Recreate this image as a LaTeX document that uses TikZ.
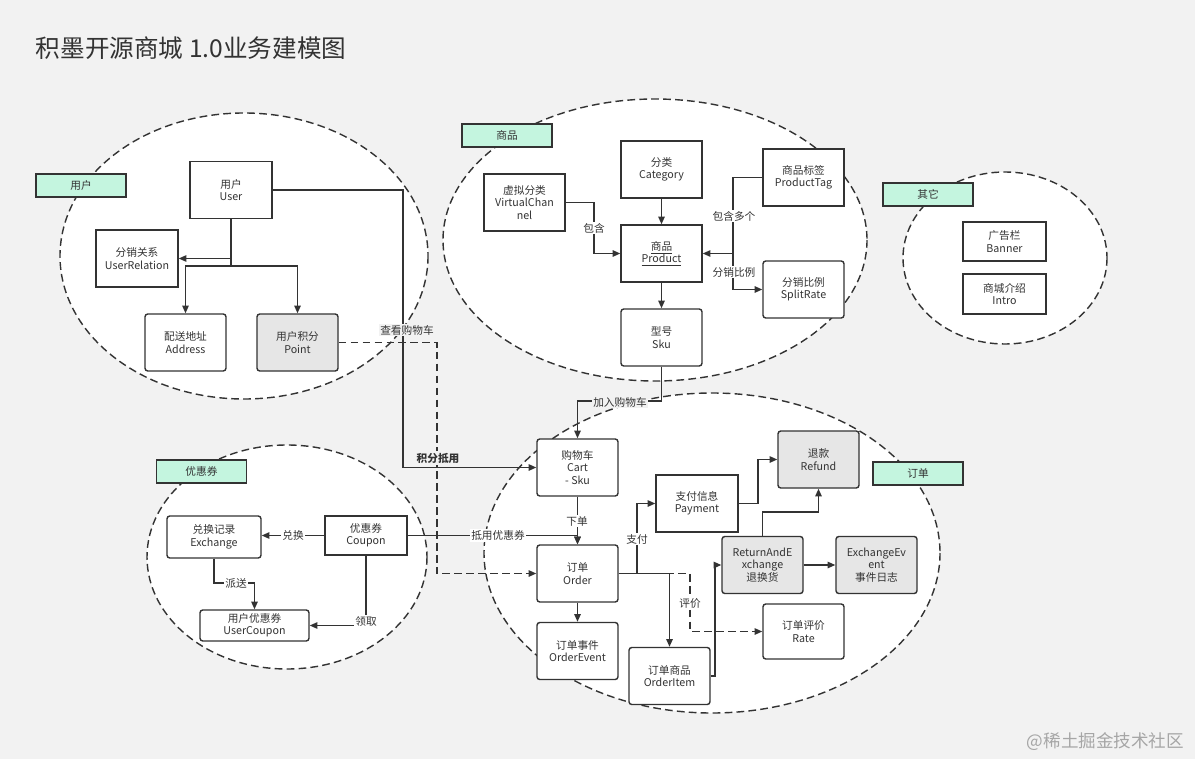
\documentclass[tikz,border=0pt]{standalone}
\usepackage{fontspec}
\setmainfont{Noto Sans CJK SC}
\usetikzlibrary{arrows.meta}
\definecolor{bgc}{HTML}{F2F2F2}
\definecolor{ink}{HTML}{333333}
\definecolor{mint}{HTML}{C4F5DF}
\definecolor{shade}{HTML}{E6E6E6}
\newcommand{\boxfont}{\fontsize{7.6}{8.8}\selectfont}

\begin{document}
\begin{tikzpicture}[
  x=0.25mm, y=-0.25mm,
  >={Triangle[length=5.5pt,width=4.6pt]},
  zone/.style={
    draw=ink,
    line width=1pt,
    dash pattern=on 5.5pt off 3pt,
    fill=white
  },
  box/.style={
    draw=ink,
    line width=1pt,
    fill=white,
    text=ink,
    align=center,
    minimum width=20.25mm,
    minimum height=14.25mm,
    inner sep=1pt,
    font=\boxfont
  },
  rbox/.style={box, rounded corners=2pt},
  gbox/.style={rbox, fill=shade},
  tag/.style={
    draw=ink,
    line width=1pt,
    fill=mint,
    text=ink,
    minimum width=22.5mm,
    minimum height=5.75mm,
    font=\boxfont
  },
  link/.style={draw=ink, line width=1pt, ->},
  lbl/.style={fill=white, text=ink, inner sep=1pt, font=\boxfont},
  glbl/.style={lbl, fill=bgc}
]
\fill[bgc] (0,0) rectangle (1195,759);
\useasboundingbox (0,0) rectangle (1195,759);

% zones
\draw[zone] (244,256) ellipse [x radius=184, y radius=143];
\draw[zone] (655,240) ellipse [x radius=212, y radius=141];
\draw[zone] (1005,258) ellipse [x radius=102, y radius=86];
\draw[zone] (287,557) ellipse [x radius=140, y radius=112];
\draw[zone] (712,553) ellipse [x radius=228, y radius=160];

\node[anchor=west, text=ink, font=\fontsize{17.5}{20}\selectfont] (title) at (31,48) {积墨开源商城 1.0业务建模图};

% user
\node[box]  (user)  at (231,190)     [minimum width=20.5mm] {用户\\User};
\node[box]  (rel)   at (137,258.5)   [minimum width=20.5mm] {分销关系\\UserRelation};
\node[rbox] (addr)  at (185.5,342.5) {配送地址\\Address};
\node[gbox] (point) at (297.5,342.5) {用户积分\\Point};

% product
\node[box]  (vch)   at (524.5,202.5) {虚拟分类\\VirtualChan\\nel};
\node[box]  (cat)   at (661.5,169.5) {分类\\Category};
\node[box]  (prod)  at (661.5,253.5) {\underline{商品}\\\underline{Product}};
\node[rbox] (sku)   at (661.5,337.5) {型号\\Sku};
\node[box]  (ptag)  at (803.5,177.5) {商品标签\\ProductTag};
\node[rbox] (split) at (803.5,289.5) {分销比例\\SplitRate};

% other
\node[box] (banner) at (1004.5,241.5) [minimum width=20.75mm, minimum height=9.75mm] {广告栏\\Banner};
\node[box] (intro)  at (1004.5,294)   [minimum width=20.75mm, minimum height=10mm] {商城介绍\\Intro};

% coupon
\node[rbox] (exch)    at (214,537)     [minimum width=23.5mm, minimum height=10.5mm] {兑换记录\\Exchange};
\node[box]  (coupon)  at (366,535.5)   [minimum width=20.5mm, minimum height=9.75mm] {优惠券\\Coupon};
\node[rbox] (ucoupon) at (254.5,625.5) [minimum width=27.25mm, minimum height=7.75mm] {用户优惠券\\UserCoupon};

% order
\node[rbox] (cart)   at (577.5,467.5) {购物车\\Cart\\- Sku};
\node[rbox] (order)  at (577.5,573.5) {订单\\Order};
\node[rbox] (oevent) at (577.5,651)   {订单事件\\OrderEvent};
\node[box]  (pay)    at (697,503.5)   [minimum width=20.5mm] {支付信息\\Payment};
\node[gbox] (refund) at (818.5,459.5) {退款\\Refund};
\node[gbox] (rae)    at (762.5,565)   {ReturnAndE\\xchange\\退换货};
\node[gbox] (eevent) at (876.5,565)   {ExchangeEv\\ent\\事件日志};
\node[rbox] (rate)   at (803.5,631.5) [minimum height=13.75mm] {订单评价\\Rate};
\node[rbox] (oitem)  at (669.5,676)   {订单商品\\OrderItem};

% tags
\node[tag] (tuser)   at (81,185.5)   {用户};
\node[tag] (tprod)   at (507,135.5)  {商品};
\node[tag] (tother)  at (928,194.5)  {其它};
\node[tag] (tcoupon) at (201.5,471.5) {优惠券};
\node[tag] (torder)  at (918,473.5)  {订单};

% links
\coordinate (usplit) at (231,266);
\draw[link] (user.south) |- (rel.east);
\draw[link] (user.south) -- (usplit) -| (addr.north);
\draw[link] (usplit) -| (point.north);
\draw[link] (user.east) -| (403,467.5) -- (cart.west);
\draw[link, dash pattern=on 5.5pt off 3pt] (point.east) -| (437,573.5) -- (order.west);

\draw[link] (vch.east) -| (594,253.5) -- (prod.west);
\draw[link] (cat.south) -- (prod.north);
\draw[link] (prod.south) -- (sku.north);
\draw[link] (ptag.west) -| (733,253.5) -- (prod.east);
\draw[link] (733,253.5) |- (split.west);
\draw[link] (sku.south) -- (661.5,401) -| (cart.north);

\draw[link] (cart.south) -- (order.north);
\draw[link] (coupon.east) -| (order.north);
\draw[link] (order.south) -- (oevent.north);
\draw[link] (order.east) -- (637,573.5) |- (pay.west);
\draw[link, dash pattern=on 5.5pt off 3pt] (order.east) -- (690,573.5) |- (rate.west);
\draw[link] (order.east) -| (oitem.north);
\draw[link] (oitem.east) -- (715,676) |- (rae.west);
\draw[link] (pay.east) -- (758,503.5) |- (refund.west);
\draw[link] (rae.north) -- (762.5,512) -| (refund.south);
\draw[link] (rae.east) -- (eevent.west);

\draw[link] (coupon.west) -- (exch.east |- coupon.west);
\draw[link] (exch.south) -- (214,583) -| (ucoupon.north);
\draw[link] (coupon.south) |- (ucoupon.east);

% link labels
\node[glbl] (lview)  at (407,330)   {查看购物车};
\node[glbl, font=\boxfont\bfseries] (lpoint) at (438,458) {积分抵用};
\node[glbl] (ladd)   at (620,402)   {加入购物车};
\node[lbl]  (lhas)   at (594,228)   {包含};
\node[lbl]  (lmany)  at (734,216)   {包含多个};
\node[lbl]  (lsplit) at (734,272)   {分销比例};
\node[lbl]  (lplace) at (577,521)   {下单};
\node[lbl]  (luse)   at (498,535.5) {抵用优惠券};
\node[lbl]  (lpay)   at (637,539)   {支付};
\node[lbl]  (lrate)  at (690,603)   {评价};
\node[lbl]  (lexch)  at (293,535.5) {兑换};
\node[lbl]  (lsend)  at (236,583)   {派送};
\node[lbl]  (lget)   at (366,621)   {领取};

\node[anchor=east, text=black!35, font=\fontsize{12.5}{14}\selectfont] (mark) at (1189,742) {@稀土掘金技术社区};
\end{tikzpicture}
\end{document}
